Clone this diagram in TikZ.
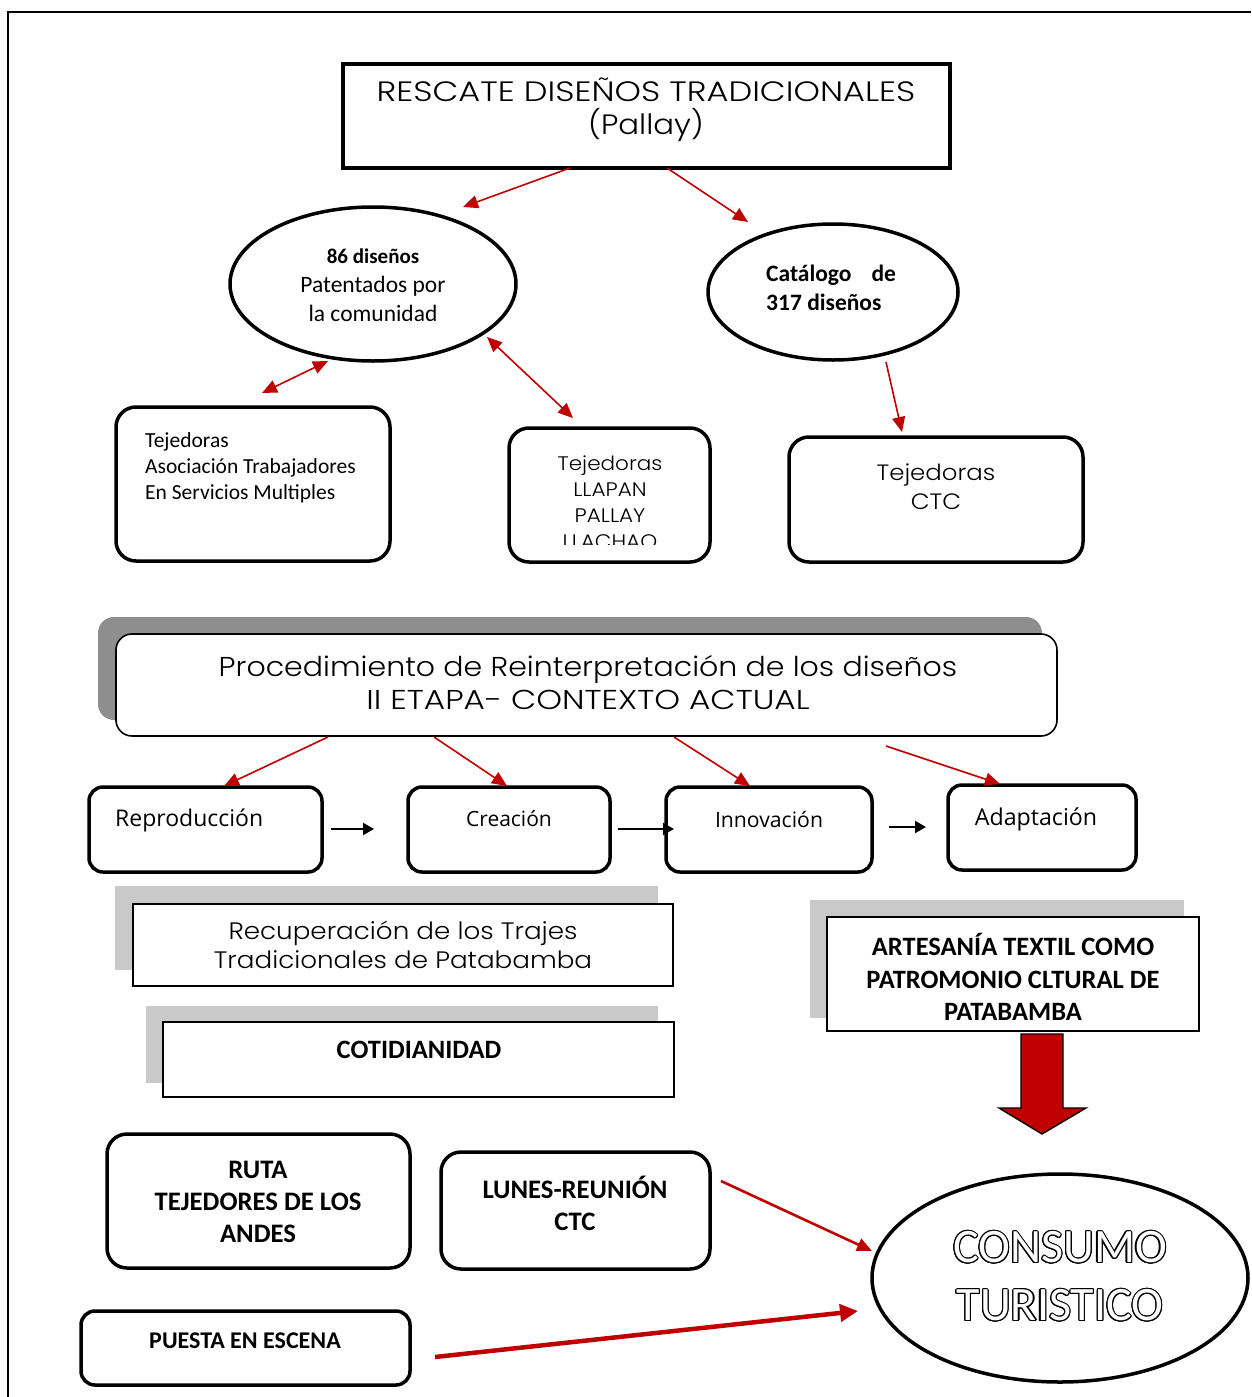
\documentclass[tikz,border=0pt]{standalone}
\usepackage{fontspec}
\setmainfont{Carlito}
\newfontfamily\gothic{Poppins Light}[FakeStretch=1.1]
\newfontfamily\gothiccaps{Poppins Light}[FakeStretch=1.2]
\newfontfamily\osans{Open Sans}
\usepackage{contour}
\contourlength{1.1pt}
\usetikzlibrary{arrows.meta,shapes.geometric}
\definecolor{arrred}{HTML}{C00000}
\definecolor{bandgray}{HTML}{8E8E8E}
\definecolor{lightgray}{HTML}{C9C9C9}

\tikzset{
  sqbox/.style={draw, line width=1.6pt, fill=white, inner sep=0pt},
  thickbox/.style={draw, line width=4pt, fill=white, inner sep=0pt},
  roundbox/.style={draw, line width=3.5pt, rounded corners=20pt, fill=white, inner sep=0pt},
  oval/.style={ellipse, draw, line width=3.5pt, fill=white, inner sep=0pt},
  band/.style={fill=bandgray, draw=none, rounded corners=16pt, inner sep=0pt},
  lband/.style={fill=lightgray, draw=none, inner sep=0pt},
  lbl/.style={inner sep=0pt, align=center},
  redarrow/.style={draw=arrred, line width=1.6pt, -{Triangle[length=15pt,width=13pt]}},
  redboth/.style={draw=arrred, line width=1.6pt, {Triangle[length=15pt,width=13pt]}-{Triangle[length=15pt,width=13pt]}},
  blackarrow/.style={line width=2.2pt, -{Triangle[length=11pt,width=12pt]}},
}

\begin{document}
\begin{tikzpicture}[x=1pt,y=-1pt]
\useasboundingbox (0,0) rectangle (1251,1397);

% page frame
\draw[line width=2pt] (8,1397) -- (8,12) -- (1251,12);

% ---- title box
\node[thickbox, minimum width=607pt, minimum height=104pt] (top) at (646.5,116) {};
\node[lbl, font=\fontsize{28}{33}\selectfont] (toptxt) at (646,110)
  {{\gothiccaps RESCATE DISEÑOS TRADICIONALES}\\{\gothic (Pallay)}};

% ---- first level ovals
\node[oval, minimum width=286pt, minimum height=154pt] (pat) at (373,284) {};
\node[lbl, font=\fontsize{23.5}{29}\selectfont] (pattxt) at (373,285)
  {{\bfseries\fontsize{21}{29}\selectfont 86 diseños}\\Patentados por\\la comunidad};

\node[oval, minimum width=250pt, minimum height=136pt] (cat) at (833,292) {};
\node[lbl, anchor=west, align=left, font=\bfseries\fontsize{23.5}{29}\selectfont] (cattxt) at (766,288)
  {Catálogo\hspace{20pt}de\\317 diseños};

% ---- weaver groups
\node[roundbox, minimum width=274pt, minimum height=154pt] (asoc) at (253,484) {};
\node[lbl, anchor=base west, align=left, font=\fontsize{21.5}{26}\selectfont] (asoctxt) at (145,499)
  {Tejedoras\\Asociación Trabajadores\\En Servicios Multiples};

\node[roundbox, minimum width=201pt, minimum height=134pt] (llap) at (609.5,495) {};
\begin{scope}
  \clip (515,440) rectangle (705,544.5);
  \node[lbl, anchor=base, font=\gothic\fontsize{19.6}{26}\selectfont] (llaptxt) at (610,548)
    {Tejedoras\\LLAPAN\\PALLAY\\LLACHAO};
\end{scope}

\node[roundbox, minimum width=294pt, minimum height=125pt] (ctc) at (936,499.5) {};
\node[lbl, font=\gothic\fontsize{22.2}{29}\selectfont] (ctctxt) at (936,487)
  {Tejedoras\\CTC};

% connectors, first part
\coordinate (t1) at (570,168);
\coordinate (t1e) at (463,207);
\coordinate (t2) at (667,168);
\coordinate (t2e) at (748,222);
\draw[redarrow] (t1) -- (t1e);
\draw[redarrow] (t2) -- (t2e);

\coordinate (pa1) at (262,393);
\coordinate (pa2) at (328,361);
\draw[redboth] (pa1) -- (pa2);
\coordinate (pb1) at (487,337);
\coordinate (pb2) at (573,418);
\draw[redboth] (pb1) -- (pb2);
\coordinate (ca1) at (886,362);
\coordinate (ca2) at (902,432);
\draw[redarrow] (ca1) -- (ca2);

% ---- second stage
\node[band, minimum width=944pt, minimum height=103pt] (procband) at (570,668.5) {};
\node[draw, line width=1.6pt, rounded corners=16pt, fill=white, inner sep=0pt,
      minimum width=941pt, minimum height=102pt] (proc) at (586.5,685) {};
\node[lbl, font=\fontsize{27.3}{33}\selectfont] (proctxt) at (588,683)
  {{\gothic Procedimiento de Reinterpretación de los diseños}\\{\gothiccaps II ETAPA- CONTEXTO ACTUAL}};

\node[roundbox, rounded corners=14pt, minimum width=233pt, minimum height=85pt] (repro) at (205.5,829.5) {};
\node[lbl, anchor=west, font=\osans\fontsize{23}{26}\selectfont] (reprotxt) at (115,820) {Reproducción};
\node[roundbox, rounded corners=14pt, minimum width=202pt, minimum height=85pt] (crea) at (509,829.5) {};
\node[lbl, font=\osans\fontsize{21}{24}\selectfont] (creatxt) at (509,819) {Creación};
\node[roundbox, rounded corners=14pt, minimum width=206pt, minimum height=85pt] (inno) at (769,829.5) {};
\node[lbl, font=\osans\fontsize{21.2}{24}\selectfont] (innotxt) at (769,819) {Innovación};
\node[roundbox, rounded corners=14pt, minimum width=188pt, minimum height=85pt] (adap) at (1042,827.5) {};
\node[lbl, font=\osans\fontsize{23.2}{26}\selectfont] (adaptxt) at (1036,819) {Adaptación};

\coordinate (p1) at (328,737);  \coordinate (p1e) at (224,786);
\coordinate (p2) at (434,737);  \coordinate (p2e) at (507,786);
\coordinate (p3) at (674,737);  \coordinate (p3e) at (750,786);
\coordinate (p4) at (886,746);  \coordinate (p4e) at (1000,784);
\draw[redarrow] (p1) -- (p1e);
\draw[redarrow] (p2) -- (p2e);
\draw[redarrow] (p3) -- (p3e);
\draw[redarrow] (p4) -- (p4e);

\coordinate (b1) at (331,829);  \coordinate (b1e) at (374,829);
\coordinate (b2) at (618,829);  \coordinate (b2e) at (674,829);
\coordinate (b3) at (889,827);  \coordinate (b3e) at (926,827);
\draw[blackarrow] (b1) -- (b1e);
\draw[blackarrow] (b2) -- (b2e);
\draw[blackarrow] (b3) -- (b3e);

% ---- outcomes
\node[lband, minimum width=543pt, minimum height=84pt] (recband) at (386.5,928) {};
\node[sqbox, minimum width=540pt, minimum height=82pt] (rec) at (403,945) {};
\node[lbl, font=\gothic\fontsize{23.8}{29}\selectfont] (rectxt) at (403,945)
  {Recuperación de los Trajes\\Tradicionales de Patabamba};

\node[lband, minimum width=512pt, minimum height=77pt] (cotband) at (402,1044.5) {};
\node[sqbox, minimum width=511pt, minimum height=75pt] (cot) at (418.5,1059.5) {};
\node[lbl, font=\bfseries\fontsize{26.5}{28}\selectfont] (cottxt) at (419,1050) {COTIDIANIDAD};

\node[lband, minimum width=374pt, minimum height=118pt] (artband) at (997,959) {};
\node[sqbox, minimum width=372pt, minimum height=114pt] (art) at (1013,974) {};
\node[lbl, font=\bfseries\fontsize{26.5}{32.5}\selectfont] (arttxt) at (1013,977)
  {ARTESANÍA TEXTIL COMO\\PATROMONIO CLTURAL DE\\PATABAMBA};

% big block arrow down
\draw[fill=arrred, line width=1.4pt, line join=miter]
  (1021,1034) -- (1063,1034) -- (1063,1108) -- (1086,1108) -- (1042,1134)
  -- (999,1108) -- (1021,1108) -- cycle;

% ---- tourism
\node[roundbox, minimum width=303pt, minimum height=134pt] (ruta) at (258.5,1201) {};
\node[lbl, font=\bfseries\fontsize{26.7}{32}\selectfont] (rutatxt) at (258,1202)
  {RUTA\\TEJEDORES DE LOS\\ANDES};

\node[roundbox, minimum width=269pt, minimum height=117pt] (lunes) at (575.5,1210.5) {};
\node[lbl, font=\bfseries\fontsize{26.7}{32}\selectfont] (lunestxt) at (575,1203)
  {LUNES-REUNIÓN\\CTC};

\node[roundbox, rounded corners=14pt, minimum width=329pt, minimum height=74pt] (puesta) at (245.5,1348) {};
\node[lbl, font=\bfseries\fontsize{24}{26}\selectfont] (puestatxt) at (245,1341) {PUESTA EN ESCENA};

\node[oval, minimum width=376pt, minimum height=208pt] (cons) at (1060,1278) {};
\node[lbl, font=\fontsize{48}{58}\selectfont] (constxt) at (1060,1277)
  {\contour{black}{\textcolor{white}{CONSUMO}}\\\contour{black}{\textcolor{white}{TURISTICO}}};

\coordinate (l1) at (721,1181);  \coordinate (l1e) at (872,1251);
\coordinate (l2) at (435,1357);  \coordinate (l2e) at (858,1311);
\draw[redarrow, line width=2.6pt] (l1) -- (l1e);
\draw[redarrow, line width=4.5pt, -{Triangle[length=18pt,width=17pt]}] (l2) -- (l2e);
\end{tikzpicture}
\end{document}
